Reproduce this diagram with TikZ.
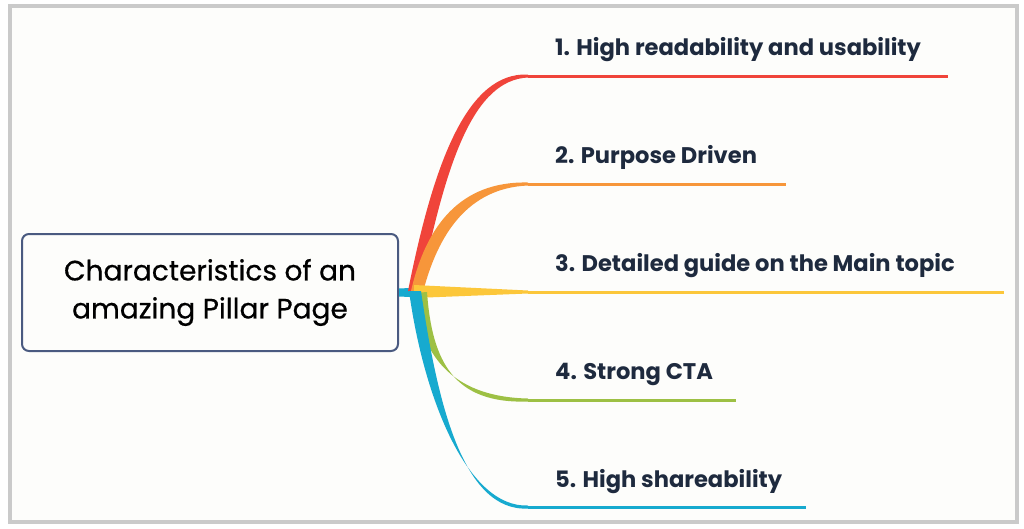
\documentclass[tikz,border=0pt]{standalone}
\usepackage{fontspec}
\setmainfont{Poppins}
\newfontfamily\pmed[FakeBold=0.6]{Poppins}
\definecolor{frame}{HTML}{CACACA}
\definecolor{bg}{HTML}{FDFDFB}
\definecolor{boxc}{HTML}{4A5A80}
\definecolor{txt}{HTML}{1E2A3E}
\definecolor{cred}{HTML}{F0443A}
\definecolor{corange}{HTML}{F7963A}
\definecolor{cyellow}{HTML}{FCC73A}
\definecolor{cgreen}{HTML}{9DC044}
\definecolor{cblue}{HTML}{17AACF}
\tikzset{
  lbl/.style={anchor=base west, inner sep=0pt, text=txt, font=\fontsize{22.6}{27}\selectfont\bfseries},
  hline/.style={line width=3pt},
}
\begin{document}
\begin{tikzpicture}[x=1pt,y=-1pt]
\useasboundingbox (0,0) rectangle (1024,528);
\fill[white] (0,0) rectangle (1024,528);
\draw[frame, line width=4pt, fill=bg] (10,6) rectangle (1017,522);
% center node
\node[draw=boxc, line width=2pt, rounded corners=7pt, minimum width=376pt, minimum height=117pt, inner sep=0pt,
  align=center, text=black, font=\fontsize{28}{38}\pmed] (c) at (210,292.5)
  {Characteristics of an\\amazing Pillar Page};
\coordinate (h) at (414,291);
% blue stub
\fill[cblue] (c.east) ++(0,-4) -- ++(22,-1) -- ++(0,10) -- ++(-22,-1) -- cycle;
% red
\coordinate (e1) at (528,76);
\fill[cred] (408,291) .. controls (434,160) and (468,72) .. (528,74.5) -- (528,77.5) .. controls (474,80) and (446,160) .. (420,291) -- cycle;
\draw[cred, hline] (e1) -- (948,76);
% orange
\coordinate (e2) at (528,184);
\fill[corange] (411,291) .. controls (426,226) and (460,181) .. (528,182.5) -- (528,185.5) .. controls (468,188) and (438,234) .. (423,292) -- cycle;
\draw[corange, hline] (e2) -- (786,184);
% yellow
\coordinate (e3) at (528,292);
\fill[cyellow] (414,285) -- (528,290.5) -- (528,293.5) -- (414,298) -- cycle;
\draw[cyellow, hline] (e3) -- (1004,292);
% green
\coordinate (e4) at (528,400);
\fill[cgreen] (414,293) .. controls (421,362) and (458,397) .. (528,398.5) -- (528,401.5) .. controls (454,404) and (432,362) .. (427,292) -- cycle;
\draw[cgreen, hline] (e4) -- (736,400);
% blue
\coordinate (e5) at (528,507);
\fill[cblue] (409,291) .. controls (424,400) and (468,508) .. (528,505.5) -- (528,508.5) .. controls (462,512) and (437,400) .. (421,291) -- cycle;
\draw[cblue, hline] (e5) -- (806,507);
% labels
\node[lbl] (l1) at (555,55) {1. High readability and usability};
\node[lbl] (l2) at (555,163) {2. Purpose Driven};
\node[lbl] (l3) at (555,271) {3. Detailed guide on the Main topic};
\node[lbl] (l4) at (555,379) {4. Strong CTA};
\node[lbl] (l5) at (555,487) {5. High shareability};
\end{tikzpicture}
\end{document}
